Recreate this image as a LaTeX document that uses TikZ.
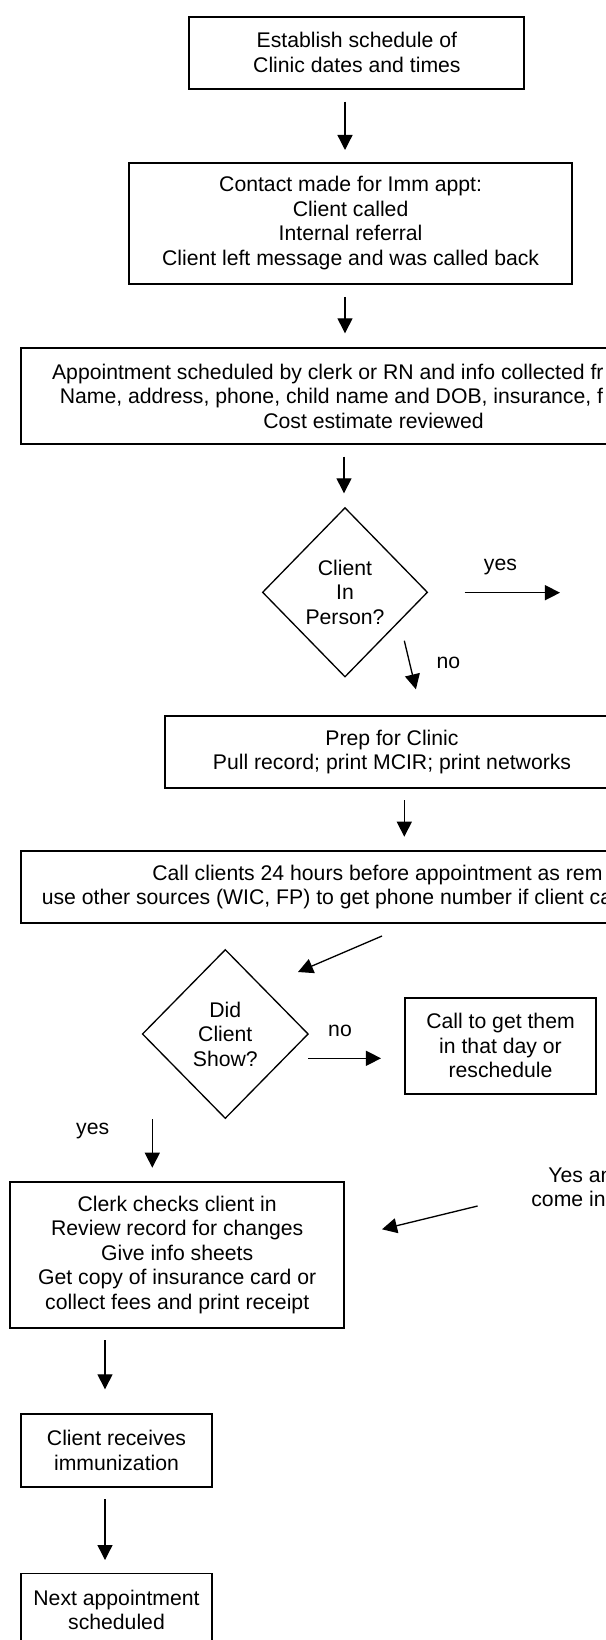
\documentclass[tikz,border=0pt]{standalone}
\usepackage{fontspec}
\setmainfont{Liberation Sans}
\usetikzlibrary{arrows.meta}
\usetikzlibrary{shapes.geometric}
\pgfdeclarelayer{edgelayer}
\pgfdeclarelayer{nodelayer}
\pgfsetlayers{edgelayer,nodelayer,main}
\tikzstyle{none}=[inner sep=0pt, align=center]
\tikzstyle{process}=[rectangle, fill=white, draw=black, line width=1.1pt, inner sep=0pt, align=center]
\tikzstyle{decision}=[diamond, fill=white, draw=black, line width=0.75pt, inner sep=0pt, align=center]
\tikzstyle{flow}=[-{Triangle[length=8.5pt,width=8.5pt]}, draw=black, line width=0.75pt]

\begin{document}
\fontsize{12}{13.9}\selectfont
\begin{tikzpicture}[x=0.566pt, y=0.566pt]
	\useasboundingbox (0, 0) rectangle (605, -1640);
	\begin{pgfonlayer}{nodelayer}
		\node [style=process, minimum width=189.6pt, minimum height=40.8pt] (0) at (356.9, -52.7) {Establish schedule of\\Clinic dates and times};
		\node [style=process, minimum width=250.7pt, minimum height=68.5pt] (1) at (350.6, -223.2) {Contact made for Imm appt:\\Client called\\Internal referral\\Client left message and was called back};
		\node [style=process, minimum width=398.8pt, minimum height=54.3pt] (2) at (373.5, -396.3) {\makebox[30.32em][l]{Appointment scheduled by clerk or RN and info collected fr}\\\makebox[29.59em][l]{Name, address, phone, child name and DOB, insurance, f}\\Cost estimate reviewed};
		\node [style=decision, minimum width=93.5pt, minimum height=95.9pt] (3) at (345, -592.3) {Client\\In\\Person?};
		\node [style=process, minimum width=256.9pt, minimum height=40.6pt] (4) at (392, -751.85) {Prep for Clinic\\Pull record; print MCIR; print networks};
		\node [style=process, minimum width=431.3pt, minimum height=40.6pt] (5) at (402.2, -886.85) {\makebox[23.57em][l]{Call clients 24 hours before appointment as rem}\\\makebox[34em][l]{use other sources (WIC, FP) to get phone number if client ca}};
		\node [style=decision, minimum width=94pt, minimum height=95.7pt] (6) at (225.3, -1034) {Did\\Client\\Show?};
		\node [style=process, minimum width=108pt, minimum height=54.5pt] (7) at (500.5, -1045.85) {Call to get them\\in that day or\\reschedule};
		\node [style=process, minimum width=188.8pt, minimum height=82.6pt] (8) at (177.2, -1254.7) {Clerk checks client in\\Review record for changes\\Give info sheets\\Get copy of insurance card or\\collect fees and print receipt};
		\node [style=process, minimum width=107.9pt, minimum height=41pt] (9) at (116.5, -1450.5) {Client receives\\immunization};
		\node [style=process, minimum width=107.9pt, minimum height=41pt] (10) at (116.5, -1609.7) {Next appointment\\scheduled};
		\node [style=none, anchor=base] (11) at (500.4, -570.7) {yes};
		\node [style=none, anchor=base] (12) at (448.3, -668.3) {no};
		\node [style=none, anchor=base] (13) at (340, -1036.7) {no};
		\node [style=none, anchor=base] (14) at (92.7, -1134.3) {yes};
		\node [style=none, align=left, anchor=north west] (15) at (531, -1167.3) {\hspace*{0.8em}Yes an\\come in};
		\node [style=none] (16) at (345, -101.7) {};
		\node [style=none] (17) at (345, -150) {};
		\node [style=none] (18) at (345, -297) {};
		\node [style=none] (19) at (345, -333.3) {};
		\node [style=none] (20) at (344, -456.7) {};
		\node [style=none] (21) at (344, -493.3) {};
		\node [style=none] (22) at (464.5, -592.7) {};
		\node [style=none] (23) at (560, -592.7) {};
		\node [style=none] (24) at (404.3, -640.7) {};
		\node [style=none] (25) at (415.9, -689.3) {};
		\node [style=none] (26) at (404.3, -800) {};
		\node [style=none] (27) at (404.3, -836.7) {};
		\node [style=none] (28) at (382, -936) {};
		\node [style=none] (29) at (298, -972) {};
		\node [style=none] (30) at (308.3, -1058.3) {};
		\node [style=none] (31) at (381, -1058.3) {};
		\node [style=none] (32) at (152.3, -1119.3) {};
		\node [style=none] (33) at (152.3, -1167.7) {};
		\node [style=none] (34) at (477.6, -1206) {};
		\node [style=none] (35) at (382, -1229.3) {};
		\node [style=none] (36) at (105, -1340) {};
		\node [style=none] (37) at (105, -1389.3) {};
		\node [style=none] (38) at (105, -1499) {};
		\node [style=none] (39) at (105, -1560) {};
	\end{pgfonlayer}
	\begin{pgfonlayer}{edgelayer}
		\draw [style=flow] (16.center) to (17.center);
		\draw [style=flow] (18.center) to (19.center);
		\draw [style=flow] (20.center) to (21.center);
		\draw [style=flow] (22.center) to (23.center);
		\draw [style=flow] (24.center) to (25.center);
		\draw [style=flow] (26.center) to (27.center);
		\draw [style=flow] (28.center) to (29.center);
		\draw [style=flow] (30.center) to (31.center);
		\draw [style=flow] (32.center) to (33.center);
		\draw [style=flow] (34.center) to (35.center);
		\draw [style=flow] (36.center) to (37.center);
		\draw [style=flow] (38.center) to (39.center);
	\end{pgfonlayer}
\end{tikzpicture}
\end{document}
